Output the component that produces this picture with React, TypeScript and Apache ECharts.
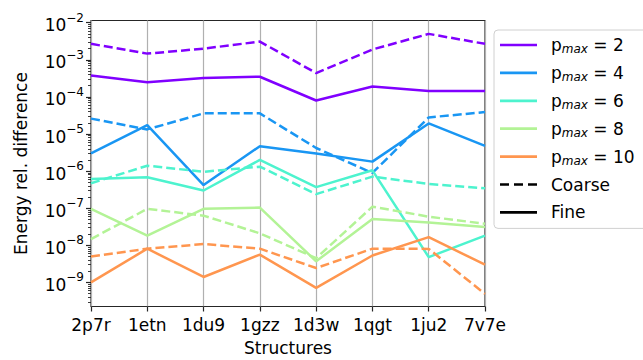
import React, { useEffect, useRef } from "react";
import * as echarts from "echarts";

// Structures on the x axis
const structures = ["2p7r", "1etn", "1du9", "1gzz", "1d3w", "1qgt", "1ju2", "7v7e"];

// Truncation orders and their colours (rainbow colormap)
const pmaxLevels = [2, 4, 6, 8, 10];
const levelColors = ["#8000ff", "#1996f3", "#4df3ce", "#b3f396", "#ff964f"];

// Relative energy difference, coarse grid
const coarseP2 = [2.7e-3, 1.47e-3, 2.0e-3, 3.1e-3, 4.4e-4, 1.9e-3, 5.0e-3, 2.7e-3];
const coarseP4 = [2.6e-5, 1.33e-5, 3.6e-5, 3.6e-5, 4.2e-6, 8.9e-7, 2.8e-5, 3.9e-5];
const coarseP6 = [4.7e-7, 1.4e-6, 9.6e-7, 1.32e-6, 2.4e-7, 7.1e-7, 4.5e-7, 3.45e-7];
const coarseP8 = [1.47e-8, 9.6e-8, 6.3e-8, 2.1e-8, 4.5e-9, 1.1e-7, 5.9e-8, 3.8e-8];
const coarseP10 = [5.0e-9, 8.1e-9, 1.08e-8, 8.1e-9, 2.44e-9, 8.1e-9, 8.0e-9, 4.9e-10];

// Relative energy difference, fine grid
const fineP2 = [3.8e-4, 2.5e-4, 3.25e-4, 3.5e-4, 8.0e-5, 1.9e-4, 1.45e-4, 1.45e-4];
const fineP4 = [3.0e-6, 1.73e-5, 4.2e-7, 4.7e-6, 3.0e-6, 1.8e-6, 1.93e-5, 4.8e-6];
const fineP6 = [6.1e-7, 6.8e-7, 3.0e-7, 2.0e-6, 3.7e-7, 1.05e-6, 4.8e-9, 1.83e-8];
const fineP8 = [9.6e-8, 1.83e-8, 9.6e-8, 1.04e-7, 3.7e-9, 5.1e-8, 4.1e-8, 3.1e-8];
const fineP10 = [1.0e-9, 8.1e-9, 1.4e-9, 5.6e-9, 7.1e-10, 5.3e-9, 1.66e-8, 3.0e-9];

// Decade exponents labelled on the y axis
const yTickExponents = [-9, -8, -7, -6, -5, -4, -3, -2];

const coarseSets = [coarseP2, coarseP4, coarseP6, coarseP8, coarseP10];
const fineSets = [fineP2, fineP4, fineP6, fineP8, fineP10];

const Y_MIN = -9.65;
const Y_MAX = -1.94;
const FONT = "DejaVu Sans";
const INK = "#262626";
const LINE_W = 2.5;
const DASH = [9, 4];

// legend handles: a solid stroke and a three-dash stroke
const SOLID_ICON = "path://M0 0H37V2.7H0Z";
const DASHED_ICON = "path://M0 0H9V2.7H0Z M14 0H23V2.7H14Z M28 0H37V2.7H28Z";

// minor log ticks at 2..9 x 10^n
const minorTicks: number[] = [];
for (let n = -10; n <= -2; n++) {
  for (let k = 2; k <= 9; k++) {
    const v = n + Math.log10(k);
    if (v > Y_MIN && v < Y_MAX) minorTicks.push(v);
  }
}

const toLog = (arr: number[]) => arr.map((v) => Math.log10(v));

export default function App() {
  const ref = useRef<HTMLDivElement>(null);

  useEffect(() => {
    document.body.style.margin = "0";
    if (!ref.current) return;
    const chart = echarts.init(ref.current, undefined, { renderer: "svg" });

    const series: any[] = [];
    pmaxLevels.forEach((p, i) => {
      series.push({
        name: "coarse" + p,
        type: "line",
        data: toLog(coarseSets[i]),
        symbol: "none",
        lineStyle: { color: levelColors[i], width: LINE_W, type: DASH },
        itemStyle: { color: levelColors[i] },
      });
      series.push({
        name: "p" + p,
        type: "line",
        data: toLog(fineSets[i]),
        symbol: "none",
        lineStyle: { color: levelColors[i], width: LINE_W, type: "solid" },
        itemStyle: { color: levelColors[i] },
      });
    });
    series.push({
      name: "Coarse",
      type: "line",
      data: [],
      symbol: "none",
      lineStyle: { color: "#000", width: LINE_W, type: DASH },
      itemStyle: { color: "#000" },
    });
    series.push({
      name: "Fine",
      type: "line",
      data: [],
      symbol: "none",
      lineStyle: { color: "#000", width: LINE_W, type: "solid" },
      itemStyle: { color: "#000" },
    });

    const legendData: any[] = pmaxLevels
      .map((p, i) => ({ name: "p" + p, icon: SOLID_ICON, itemStyle: { color: levelColors[i] } }))
      .concat([
        { name: "Coarse", icon: DASHED_ICON, itemStyle: { color: "#000" } },
        { name: "Fine", icon: SOLID_ICON, itemStyle: { color: "#000" } },
      ]);

    const textToken = { fontFamily: FONT, fontSize: 17, color: "#000", lineHeight: 20 };

    const option: any = {
      animation: false,
      backgroundColor: "#ffffff",
      textStyle: { fontFamily: FONT },
      grid: {
        left: 91,
        right: 158,
        top: 20.5,
        bottom: 53.5,
        show: true,
        borderColor: INK,
        borderWidth: 1.2,
        backgroundColor: "transparent",
        outerBoundsMode: "none",
        containLabel: false,
      },
      xAxis: {
        type: "category",
        data: structures,
        boundaryGap: false,
        name: "Structures",
        nameLocation: "middle",
        nameGap: 33,
        nameTextStyle: { fontFamily: FONT, fontSize: 17, color: "#000" },
        axisLine: { show: false },
        axisTick: { show: true, length: 5, interval: 0, lineStyle: { color: INK, width: 1.2 } },
        axisLabel: { fontFamily: FONT, fontSize: 17, color: "#000", margin: 10, interval: 0 },
        splitLine: { show: true, interval: 0, lineStyle: { color: "#b0b0b0", width: 1.2 } },
      },
      yAxis: [
        {
          type: "value",
          min: Y_MIN,
          max: Y_MAX,
          position: "left",
          name: "Energy rel. difference",
          nameLocation: "middle",
          nameGap: 62,
          nameTextStyle: { fontFamily: FONT, fontSize: 17, color: "#000" },
          axisLine: { show: false },
          axisTick: {
            show: true,
            length: 5,
            customValues: yTickExponents,
            lineStyle: { color: INK, width: 1.2 },
          },
          axisLabel: {
            show: true,
            customValues: yTickExponents,
            margin: 7,
            formatter: (v: number) => `{b|10}{s|\u2212${Math.round(-v)}}`,
            rich: {
              b: { fontFamily: FONT, fontSize: 17, color: "#000", lineHeight: 22, verticalAlign: "bottom" },
              s: { fontFamily: FONT, fontSize: 12, color: "#000", lineHeight: 12, verticalAlign: "top", padding: [0, 0, 2, 0] },
            },
          },
          splitLine: { show: false },
        },
        {
          type: "value",
          min: Y_MIN,
          max: Y_MAX,
          position: "left",
          axisLine: { show: false },
          axisTick: {
            show: true,
            length: 3,
            customValues: minorTicks,
            lineStyle: { color: INK, width: 0.9 },
          },
          axisLabel: { show: false },
          splitLine: { show: false },
        },
      ],
      legend: {
        show: true,
        orient: "vertical",
        left: 494,
        top: 30,
        data: legendData,
        itemWidth: 37,
        itemHeight: 14,
        itemGap: 7.9,
        padding: [5, 20, 6, 6],
        backgroundColor: "rgba(255,255,255,0.8)",
        borderColor: "#d0d0d0",
        borderWidth: 1,
        borderRadius: 4,
        selectedMode: false,
        formatter: (name: string) => {
          if (name.startsWith("p")) return `{lead|p}{sub|max}{t| = ${name.slice(1)}}`;
          return `{lead|${name}}`;
        },
        textStyle: {
          fontFamily: FONT,
          fontSize: 17,
          color: "#000",
          lineHeight: 20,
          rich: {
            t: textToken,
            lead: { ...textToken, padding: [0, 0, 0, 9] },
            sub: {
              fontFamily: FONT,
              fontSize: 12,
              fontStyle: "italic",
              color: "#000",
              lineHeight: 12,
              verticalAlign: "bottom",
            },
          },
        },
      },
      series,
    };

    chart.setOption(option);
    return () => chart.dispose();
  }, []);

  return <div ref={ref} style={{ width: 643, height: 360 }} />;
}
